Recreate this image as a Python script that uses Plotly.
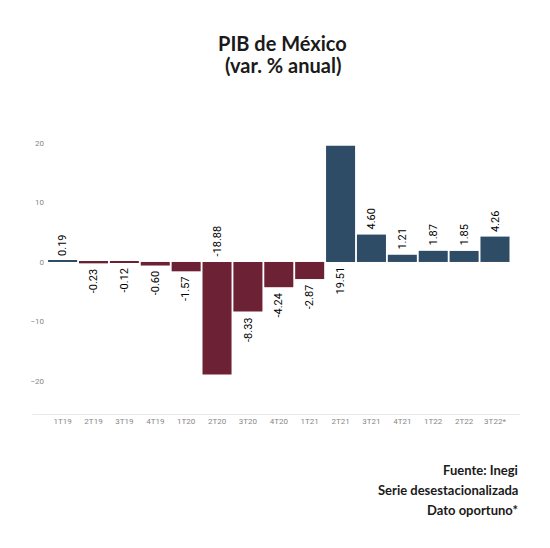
import plotly.graph_objects as go

categories = ["1T19", "2T19", "3T19", "4T19", "1T20", "2T20", "3T20", "4T20",
              "1T21", "2T21", "3T21", "4T21", "1T22", "2T22", "3T22*"]
values = [0.19, -0.23, -0.12, -0.60, -1.57, -18.88, -8.33, -4.24,
          -2.87, 19.51, 4.60, 1.21, 1.87, 1.85, 4.26]
y_ticks = [-20, -10, 0, 10, 20]

POS = "#2f4c66"
NEG = "#6c2135"
colors = [POS if v >= 0 else NEG for v in values]

fig = go.Figure()
fig.add_trace(go.Bar(
    x=categories, y=values, marker=dict(color=colors, line=dict(width=0)),
    hoverinfo="skip",
))

# value labels (rotated); very large bars get their label on the opposite side of zero
for c, v in zip(categories, values):
    big = abs(v) > 15
    if big:
        y = 0
        up = v < 0
    else:
        y = v
        up = v >= 0
    fig.add_annotation(
        x=c, y=y, text=f"{v:.2f}", showarrow=False, textangle=-90,
        yanchor="bottom" if up else "top", yshift=3 if up else -3,
        font=dict(family="Roboto", size=11, color="#000000"),
    )

fig.add_shape(type="line", xref="paper", yref="y", x0=-0.027, x1=1,
              y0=-25.7, y1=-25.7, line=dict(color="#e3e3e3", width=1.5))

fig.add_annotation(text="<b>PIB de México</b>", xref="paper", yref="paper",
                   x=0.5, y=1, xanchor="center", yanchor="bottom", showarrow=False,
                   font=dict(family="Lato", size=20, color="#1a1a1a"), yshift=68)
fig.add_annotation(text="<b>(var. % anual)</b>", xref="paper", yref="paper",
                   x=0.5, y=1, xanchor="center", yanchor="bottom", showarrow=False,
                   font=dict(family="Lato", size=20, color="#1a1a1a"), yshift=46)

for i, t in enumerate(["Fuente: Inegi", "Serie desestacionalizada", "Dato oportuno*"]):
    fig.add_annotation(text=f"<b>{t}</b>", xref="paper", yref="paper",
                       x=1, y=0, xanchor="right", yanchor="middle", showarrow=False,
                       font=dict(family="Lato", size=13, color="#1a1a1a"),
                       yshift=-55 - 20 * i)

fig.update_layout(
    width=542, height=540,
    margin=dict(l=37, r=30, t=117, b=133),
    paper_bgcolor="white", plot_bgcolor="white",
    showlegend=False, bargap=0.06,
    xaxis=dict(range=[-0.57, 14.81], showgrid=False, zeroline=False, showline=False,
               ticks="", tickfont=dict(family="Roboto", size=8, color="#888888"),
               fixedrange=True),
    yaxis=dict(range=[-25.7, 23], tickvals=y_ticks, showgrid=False, zeroline=False,
               showline=False, ticks="",
               tickfont=dict(family="Roboto", size=8, color="#888888"), fixedrange=True),
)

fig.write_html("out.html")
